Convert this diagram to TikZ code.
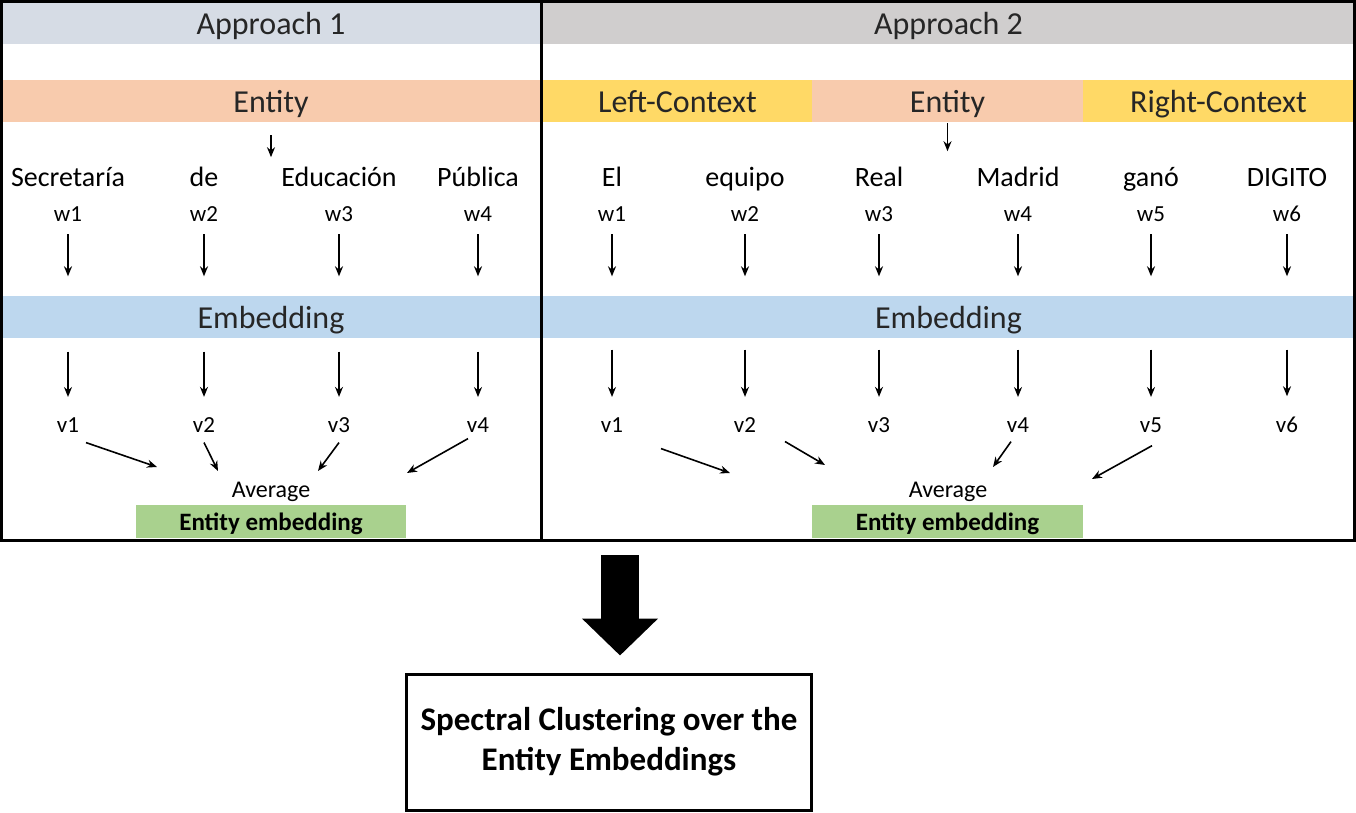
\documentclass[tikz,border=0pt]{standalone}
\usepackage{fontspec}
\setmainfont{Carlito}
\usetikzlibrary{calc, positioning, arrows.meta}
\definecolor{headA}{HTML}{D6DCE5}
\definecolor{headB}{HTML}{D0CECE}
\definecolor{entpink}{HTML}{F8CBAD}
\definecolor{ctxyellow}{HTML}{FFD966}
\definecolor{embblue}{HTML}{BDD7EE}
\definecolor{embgreen}{HTML}{A9D18E}
\tikzset{
  % Set arrowhead
  >={Stealth[length=10pt, width=8pt]},
  % Coloured band with a title
  band/.style={inner sep=0pt, minimum height=42pt, text height=24pt,
    text depth=0pt, font=\fontsize{32}{38}\selectfont, text=black!85},
  % Word of the sentence
  word/.style={inner sep=0pt, anchor=base, font=\fontsize{28}{32}\selectfont},
  % w and v labels
  lab/.style={inner sep=0pt, anchor=base, font=\fontsize{23}{27}\selectfont},
  avg/.style={inner sep=0pt, anchor=base, font=\fontsize{24}{28}\selectfont},
  % Entity embedding box
  ebox/.style={fill=embgreen, inner sep=0pt, minimum width=271pt,
    minimum height=33pt, text height=18pt, text depth=0pt,
    font=\bfseries\fontsize{25}{30}\selectfont},
  % Arrows
  arr/.style={->, line width=1.6pt},
}
\begin{document}
\begin{tikzpicture}[x=1pt, y=-1pt]
  \useasboundingbox (0,0) rectangle (1356,813);

  % Approach 1
  \node[band, fill=headA, minimum width=539pt] (h1) at (271,23) {Approach 1};
  \node[band, fill=entpink, minimum width=539pt] (ent1) at (271,101) {Entity};
  \node[band, fill=embblue, minimum width=539pt] (emb1) at (271,316.5) {Embedding};
  \draw[arr, shorten <=13pt] (ent1.south) -- ++(0,35);
  \foreach \x/\t [count=\i] in {68/Secretaría, 204/de, 339/Educación, 478/Pública}{
    \node[word] (a1t\i) at (\x,186) {\t};
    \node[lab] (a1w\i) at (\x,221) {w\i};
    \node[lab] (a1v\i) at (\x,432) {v\i};
    \draw[arr, shorten <=13pt, shorten >=19pt] (a1w\i.south) -- (a1w\i.south |- emb1.north);
    \draw[arr, shorten <=14pt, shorten >=20pt] (a1v\i.north |- emb1.south) -- (a1v\i.north);
  }
  \node[avg] (avg1) at (271,497) {Average};
  \node[ebox, minimum width=270pt] (ee1) at (271,521.5) {Entity embedding};
  \foreach \i/\dx/\dy/\ex/\ey in {1/18/10/157/467, 2/0/10/218/471, 3/0/10/318/471, 4/-10/6/407/473}{
    \coordinate (a1e\i) at (\ex,\ey);
    \draw[arr] (a1v\i) ++(\dx,\dy+8) -- (a1e\i);
  }

  % Approach 2
  \node[band, fill=headB, minimum width=811pt] (h2) at (948.5,23) {Approach 2};
  \node[band, fill=ctxyellow, minimum width=269pt] (left) at (677.5,101) {Left-Context};
  \node[band, fill=entpink, minimum width=271pt] (ent2) at (947.5,101) {Entity};
  \node[band, fill=ctxyellow, minimum width=271pt] (right) at (1218.5,101) {Right-Context};
  \node[band, fill=embblue, minimum width=811pt] (emb2) at (948.5,316.5) {Embedding};
  \draw[arr, shorten <=1pt] (ent2.south) -- ++(0,29);
  \foreach \x/\t [count=\i] in {612/El, 745/equipo, 879/Real, 1018/Madrid, 1151/ganó, 1287/DIGITO}{
    \node[word] (a2t\i) at (\x,186) {\t};
    \node[lab] (a2w\i) at (\x,221) {w\i};
    \node[lab] (a2v\i) at (\x,432) {v\i};
    \draw[arr, shorten <=13pt, shorten >=19pt] (a2w\i.south) -- (a2w\i.south |- emb2.north);
    \draw[arr, shorten <=12pt, shorten >=20pt] (a2v\i.north |- emb2.south) -- (a2v\i.north);
  }
  \node[avg] (avg2) at (948,497) {Average};
  \node[ebox] (ee2) at (947.5,521.5) {Entity embedding};
  \foreach \i/\dx/\dy/\ex/\ey in {1/49/16/730/473, 2/40/9/825/465, 4/-7/9/993/467, 5/1/13/1092/479}{
    \coordinate (a2e\i) at (\ex,\ey);
    \draw[arr] (a2v\i) ++(\dx,\dy+8) -- (a2e\i);
  }

  % Frames
  \draw[line width=3pt] (1.5,1.5) rectangle (1354.5,540);
  \draw[line width=3pt] (541.5,1.5) -- (541.5,540);

  % Clustering step
  \node[draw, line width=3pt, minimum width=405pt, minimum height=136pt,
    align=center, font=\bfseries\fontsize{33}{40}\selectfont] (spec) at (609,742)
    {Spectral Clustering over the\\Entity Embeddings};
  \coordinate (bigtop) at (620,555);
  \draw[line width=38pt, -{Triangle[length=37pt, width=74pt]}]
    (bigtop) -- (bigtop |- spec.north) [shorten >=17pt];
\end{tikzpicture}
\end{document}
